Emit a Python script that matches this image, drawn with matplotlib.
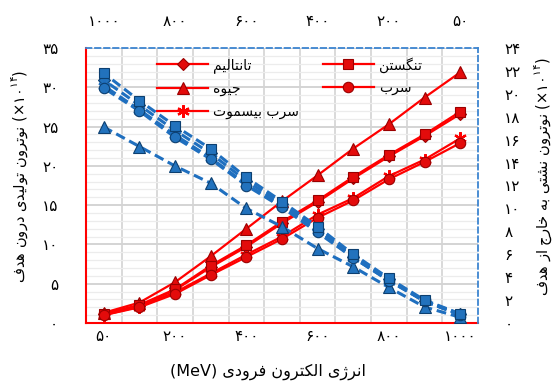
import matplotlib
matplotlib.use("Agg")
import matplotlib.pyplot as plt
from matplotlib.ticker import MultipleLocator, FixedLocator

plt.rcParams['font.family'] = ['DejaVu Sans']
plt.rcParams['mathtext.fontset'] = 'dejavusans'

# ---- data -------------------------------------------------------------
energies = [50, 100, 200, 300, 400, 500, 600, 700, 800, 900, 1000]   # MeV
tick_energies = [50, 200, 400, 600, 800, 1000]

# neutrons produced inside the target (x1e14), left axis
prod_tantalum = [1.1, 2.2, 4.2, 7.1, 9.7, 12.7, 15.4, 18.4, 21.2, 23.8, 26.6]
prod_mercury = [1.3, 2.6, 5.2, 8.5, 12.0, 15.5, 18.8, 22.2, 25.3, 28.7, 31.9]
prod_pbbi = [1.0, 2.1, 3.9, 6.3, 8.7, 11.0, 13.8, 15.9, 18.7, 20.8, 23.5]
prod_tungsten = [1.2, 2.3, 4.3, 7.3, 9.9, 12.9, 15.6, 18.6, 21.4, 24.0, 26.9]
prod_lead = [1.0, 2.0, 3.7, 6.1, 8.4, 10.7, 13.4, 15.6, 18.3, 20.5, 22.9]

# neutrons leaking out of the target (x1e14), right axis
leak_tantalum = [0.8, 1.9, 3.8, 5.8, 8.2, 10.4, 12.4, 14.8, 16.8, 19.0, 21.2]
leak_mercury = [0.5, 1.4, 3.1, 4.9, 6.5, 8.4, 10.0, 12.2, 13.7, 15.4, 17.1]
leak_pbbi = [0.7, 1.9, 3.7, 5.7, 8.0, 10.2, 12.1, 14.4, 16.4, 18.6, 20.7]
leak_tungsten = [0.8, 2.0, 3.9, 6.0, 8.4, 10.6, 12.7, 15.2, 17.2, 19.4, 21.8]
leak_lead = [0.7, 1.9, 3.7, 5.7, 7.9, 10.1, 12.0, 14.3, 16.2, 18.5, 20.5]

names = {
    'tantalum': 'تانتالیم',
    'mercury': 'جیوه',
    'pbbi': 'سرب بیسموت',
    'tungsten': 'تنگستن',
    'lead': 'سرب',
}
xlabel_text = 'انرژی الکترون فرودی'
ylabel_left_text = 'نوترون تولیدی درون هدف'
ylabel_right_text = 'نوترون نشتی به خارج از هدف'

# ---- minimal Persian shaping (presentation forms, visual order) ---------
FORMS = {
    'ا': ('\uFE8D', '\uFE8E', None, None),
    'ب': ('\uFE8F', '\uFE90', '\uFE91', '\uFE92'),
    'ت': ('\uFE95', '\uFE96', '\uFE97', '\uFE98'),
    'ج': ('\uFE9D', '\uFE9E', '\uFE9F', '\uFEA0'),
    'خ': ('\uFEA5', '\uFEA6', '\uFEA7', '\uFEA8'),
    'د': ('\uFEA9', '\uFEAA', None, None),
    'ر': ('\uFEAD', '\uFEAE', None, None),
    'ز': ('\uFEAF', '\uFEB0', None, None),
    'ژ': ('\uFB8A', '\uFB8B', None, None),
    'س': ('\uFEB1', '\uFEB2', '\uFEB3', '\uFEB4'),
    'ش': ('\uFEB5', '\uFEB6', '\uFEB7', '\uFEB8'),
    'ف': ('\uFED1', '\uFED2', '\uFED3', '\uFED4'),
    'ک': ('\uFB8E', '\uFB8F', '\uFB90', '\uFB91'),
    'گ': ('\uFB92', '\uFB93', '\uFB94', '\uFB95'),
    'ل': ('\uFEDD', '\uFEDE', '\uFEDF', '\uFEE0'),
    'م': ('\uFEE1', '\uFEE2', '\uFEE3', '\uFEE4'),
    'ن': ('\uFEE5', '\uFEE6', '\uFEE7', '\uFEE8'),
    'ه': ('\uFEE9', '\uFEEA', '\uFEEB', '\uFEEC'),
    'و': ('\uFEED', '\uFEEE', None, None),
    'ی': ('\uFBFC', '\uFBFD', '\uFBFE', '\uFBFF'),
}


def rtl(text):
    out = []
    for i, ch in enumerate(text):
        f = FORMS.get(ch)
        if f is None:
            out.append(ch)
            continue
        prev = FORMS.get(text[i - 1]) if i > 0 else None
        nxt = FORMS.get(text[i + 1]) if i + 1 < len(text) else None
        join_prev = prev is not None and prev[2] is not None
        join_next = f[2] is not None and nxt is not None
        if join_prev and join_next:
            out.append(f[3])
        elif join_prev:
            out.append(f[1])
        elif join_next:
            out.append(f[2])
        else:
            out.append(f[0])
    return ''.join(reversed(out))


def fa(n):
    return str(n).translate(str.maketrans('0123456789', '۰۱۲۳۴۵۶۷۸۹'))


# ---- figure -----------------------------------------------------------
fig = plt.figure(figsize=(5.55, 3.85), dpi=100)
pos = [86 / 555, 1 - 323 / 385, 392 / 555, 275 / 385]
ax = fig.add_axes(pos)
ax2 = fig.add_axes(pos)
ax2.patch.set_visible(False)

idx = list(range(len(energies)))
RED = '#ff0000'
RED_FACE = '#e30b0b'
RED_EDGE = '#9a0000'
BLUE = '#1f6fbf'
BLUE_FACE = '#2272bd'
BLUE_EDGE = '#0c3f70'

red_style = dict(color=RED, lw=1.6, mfc=RED_FACE, mec=RED_EDGE, mew=0.8)
ax.plot(idx, prod_tantalum, marker='D', ms=6.5, label=rtl(names['tantalum']), **red_style)
ax.plot(idx, prod_mercury, marker='^', ms=9, label=rtl(names['mercury']), **red_style)
ax.plot(idx, prod_pbbi, marker=(6, 2, 0), ms=9, label=rtl(names['pbbi']),
        color=RED, lw=1.6, mec=RED, mew=1.6)
ax.plot(idx, prod_tungsten, marker='s', ms=7, label=rtl(names['tungsten']), **red_style)
ax.plot(idx, prod_lead, marker='o', ms=7.5, label=rtl(names['lead']), **red_style)

blue_style = dict(color=BLUE, lw=2.2, ls=(0, (3.2, 1.6)), mfc=BLUE_FACE, mec=BLUE_EDGE, mew=0.8)
ax2.plot(idx, leak_tantalum, marker='D', ms=6.5, **blue_style)
ax2.plot(idx, leak_mercury, marker='^', ms=9, **blue_style)
ax2.plot(idx, leak_pbbi, marker=(6, 2, 0), ms=9, color=BLUE, lw=2.2, ls=(0, (3.2, 1.6)),
         mec=BLUE, mew=1.6)
ax2.plot(idx, leak_lead, marker='o', ms=7.5, **blue_style)
ax2.plot(idx, leak_tungsten, marker='s', ms=7, **blue_style)

# primary axes: bottom categories, left 0-35
ax.set_xlim(-0.5, len(energies) - 0.5)
ax.set_ylim(0, 35)
tick_pos = [energies.index(e) for e in tick_energies]
ax.xaxis.set_major_locator(FixedLocator(tick_pos))
ax.set_xticklabels([fa(e) for e in tick_energies])
ax.xaxis.set_minor_locator(FixedLocator([k - 0.5 for k in range(1, len(energies))]))
ax.yaxis.set_major_locator(MultipleLocator(5))
ax.yaxis.set_minor_locator(MultipleLocator(1))
ax.set_yticklabels([fa(int(v)) for v in ax.get_yticks()])
ax.grid(False)
ax.grid(True, axis='x', which='minor', color='#d9d9d9', lw=1.4)
ax.grid(True, axis='y', which='major', color='#d4d4d4', lw=1.4)
ax.grid(True, axis='y', which='minor', color='#ececec', lw=0.9)
ax.set_axisbelow(True)
ax.tick_params(axis='both', which='both', length=0)
ax.tick_params(axis='x', pad=4, labelsize=11)
ax.tick_params(axis='y', pad=20, labelsize=11)
for s in ('top', 'right'):
    ax.spines[s].set_visible(False)
for s in ('left', 'bottom'):
    ax.spines[s].set_color(RED)
    ax.spines[s].set_linewidth(1.5)

# secondary axes: top reversed categories, right 0-24
ax2.set_xlim(len(energies) - 0.5, -0.5)
ax2.set_ylim(0, 24)
ax2.xaxis.tick_top()
ax2.yaxis.tick_right()
ax2.xaxis.set_major_locator(FixedLocator(tick_pos))
ax2.set_xticklabels([fa(e) for e in tick_energies])
ax2.yaxis.set_major_locator(MultipleLocator(2))
ax2.set_yticklabels([fa(int(v)) for v in ax2.get_yticks()])
ax2.tick_params(axis='both', which='both', length=0)
ax2.tick_params(axis='x', pad=14, labelsize=11)
ax2.tick_params(axis='y', pad=19, labelsize=11)
for s in ('left', 'bottom'):
    ax2.spines[s].set_visible(False)
for s in ('top', 'right'):
    ax2.spines[s].set_color('#3d85d0')
    ax2.spines[s].set_linestyle((0, (3, 2)))
    ax2.spines[s].set_linewidth(1.3)

# axis titles
ax.set_xlabel('(MeV) ' + rtl(xlabel_text), fontsize=11.5, va='center')
ax.xaxis.set_label_coords(0.464, -0.178)
exp_part = r'(×۱۰$^{\mathrm{۱۴}}$)'
ax.set_ylabel(rtl(ylabel_left_text) + ' ' + exp_part, fontsize=10.5,
              rotation=90, va='center', ha='center')
ax.yaxis.set_label_coords(-0.168, 0.535)
ax2.yaxis.set_label_position('right')
ax2.set_ylabel(rtl(ylabel_right_text) + ' ' + exp_part, fontsize=10.5,
               rotation=90, va='center', ha='center')
ax2.yaxis.set_label_coords(1.166, 0.531)

# legend (red series)
ax.legend(loc='upper left', bbox_to_anchor=(0.181, 0.968), ncol=2, frameon=False,
          fontsize=10, handlelength=3.7, handletextpad=0.35, columnspacing=1.7,
          labelspacing=0.62, borderpad=0, borderaxespad=0, numpoints=1)

fig.savefig('out.png', dpi=100, facecolor='white')
